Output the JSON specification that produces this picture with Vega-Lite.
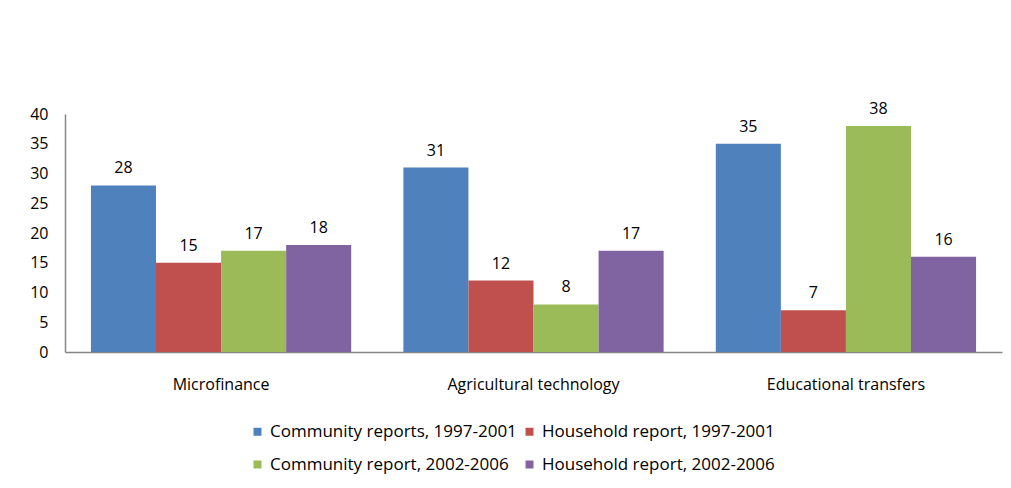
{
  "$schema": "https://vega.github.io/schema/vega-lite/v6.json",
  "width": 937,
  "height": 238,
  "autosize": {"type": "none"},
  "padding": {"left": 65, "top": 114, "right": 9, "bottom": 136},
  "background": "white",
  "config": {
    "view": {"stroke": null},
    "font": "Open Sans",
    "axis": {"labelFont": "Open Sans", "labelColor": "#000000"},
    "legend": {"labelFont": "Open Sans"}
  },
  "data": {
    "values": [
      {"category": "Microfinance", "series": "Community reports, 1997-2001", "value": 28},
      {"category": "Microfinance", "series": "Household report, 1997-2001", "value": 15},
      {"category": "Microfinance", "series": "Community report, 2002-2006", "value": 17},
      {"category": "Microfinance", "series": "Household report, 2002-2006", "value": 18},
      {"category": "Agricultural technology", "series": "Community reports, 1997-2001", "value": 31},
      {"category": "Agricultural technology", "series": "Household report, 1997-2001", "value": 12},
      {"category": "Agricultural technology", "series": "Community report, 2002-2006", "value": 8},
      {"category": "Agricultural technology", "series": "Household report, 2002-2006", "value": 17},
      {"category": "Educational transfers", "series": "Community reports, 1997-2001", "value": 35},
      {"category": "Educational transfers", "series": "Household report, 1997-2001", "value": 7},
      {"category": "Educational transfers", "series": "Community report, 2002-2006", "value": 38},
      {"category": "Educational transfers", "series": "Household report, 2002-2006", "value": 16}
    ]
  },
  "encoding": {
    "x": {
      "field": "category",
      "type": "nominal",
      "sort": null,
      "title": null,
      "scale": {"paddingInner": 0.167, "paddingOuter": 0.083},
      "axis": {
        "labelAngle": 0,
        "ticks": false,
        "domainColor": "#868686",
        "domainWidth": 1.5,
        "labelFontSize": 16,
        "labelPadding": 24
      }
    },
    "xOffset": {
      "field": "series",
      "type": "nominal",
      "sort": null,
      "scale": {"paddingInner": 0, "paddingOuter": 0}
    },
    "y": {
      "field": "value",
      "type": "quantitative",
      "title": null,
      "scale": {"domain": [0, 40]},
      "axis": {
        "values": [0, 5, 10, 15, 20, 25, 30, 35, 40],
        "grid": false,
        "ticks": false,
        "domainColor": "#868686",
        "domainWidth": 1.5,
        "labelFontSize": 16,
        "labelPadding": 17
      }
    }
  },
  "layer": [
    {
      "mark": {"type": "bar"},
      "encoding": {
        "color": {
          "field": "series",
          "type": "nominal",
          "sort": null,
          "title": null,
          "scale": {
            "domain": ["Community reports, 1997-2001", "Household report, 1997-2001", "Community report, 2002-2006", "Household report, 2002-2006"],
            "range": ["#4F81BD", "#C0504D", "#9BBB59", "#8064A2"]
          },
          "legend": {
            "orient": "none",
            "direction": "horizontal",
            "legendX": 184,
            "legendY": 309,
            "columns": 2,
            "symbolType": "square",
            "symbolSize": 64,
            "symbolStrokeWidth": 0,
            "symbolOpacity": 1,
            "labelFontSize": 17,
            "labelColor": "#000000",
            "rowPadding": 15,
            "columnPadding": 4,
            "labelOffset": 4,
            "labelLimit": 400
          }
        }
      }
    },
    {
      "mark": {"type": "text", "dy": -17, "fontSize": 16, "color": "#000000"},
      "encoding": {
        "text": {"field": "value", "type": "quantitative"}
      }
    }
  ]
}
